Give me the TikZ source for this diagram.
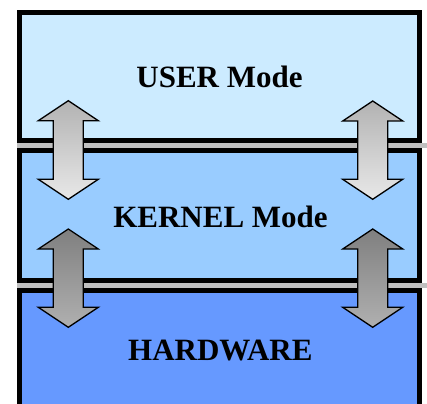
\documentclass[tikz,border=0pt]{standalone}
\usepackage{fontspec}
\setmainfont{Liberation Serif}
\definecolor{usercol}{HTML}{CCEBFF}
\definecolor{kernelcol}{HTML}{99CCFF}
\definecolor{hwcol}{HTML}{6699FF}
\definecolor{stripcol}{HTML}{C0C0C0}

\begin{document}
\begin{tikzpicture}[x=1pt,y=-1pt,
	layer/.style={draw=black,line width=5pt},
	lightarrow/.style={draw=black,line width=1.3pt,line join=miter,top color=black!30,bottom color=black!9},
	darkarrow/.style={draw=black,line width=1.3pt,line join=miter,top color=black!50,bottom color=black!31},
	modetext/.style={anchor=base,font=\bfseries\fontsize{31}{31}\selectfont}]

\useasboundingbox (0,0) rectangle (427,403);
\clip (0,0) rectangle (427,403);

\foreach \t/\b/\col in {13/140.2/usercol, 150.2/280.2/kernelcol, 290.2/420/hwcol}
{
	\draw[layer,fill=\col] (19.3,\t) rectangle (419,\b);
};

\foreach \y in {142.7,282.7}
{
	\fill[stripcol] (17,\y) rectangle (427,\y+5);
};

\node[modetext] (user) at (219.5,88) {USER Mode};
\node[modetext] (kernel) at (220.5,227.7) {KERNEL Mode};
\node[modetext] (hardware) at (220.3,360) {HARDWARE};

\foreach \cx/\ty/\by/\look in {68.3/100.7/199.3/lightarrow, 372.7/101/199.3/lightarrow,
					68.3/229/327.3/darkarrow, 372.7/229/327.3/darkarrow}
{
	\draw[\look] (\cx,\ty) -- (\cx+30,\ty+20) -- (\cx+15,\ty+20) -- (\cx+15,\by-20)
		-- (\cx+30,\by-20) -- (\cx,\by) -- (\cx-30,\by-20) -- (\cx-15,\by-20)
		-- (\cx-15,\ty+20) -- (\cx-30,\ty+20) -- cycle;
};
\end{tikzpicture}
\end{document}
